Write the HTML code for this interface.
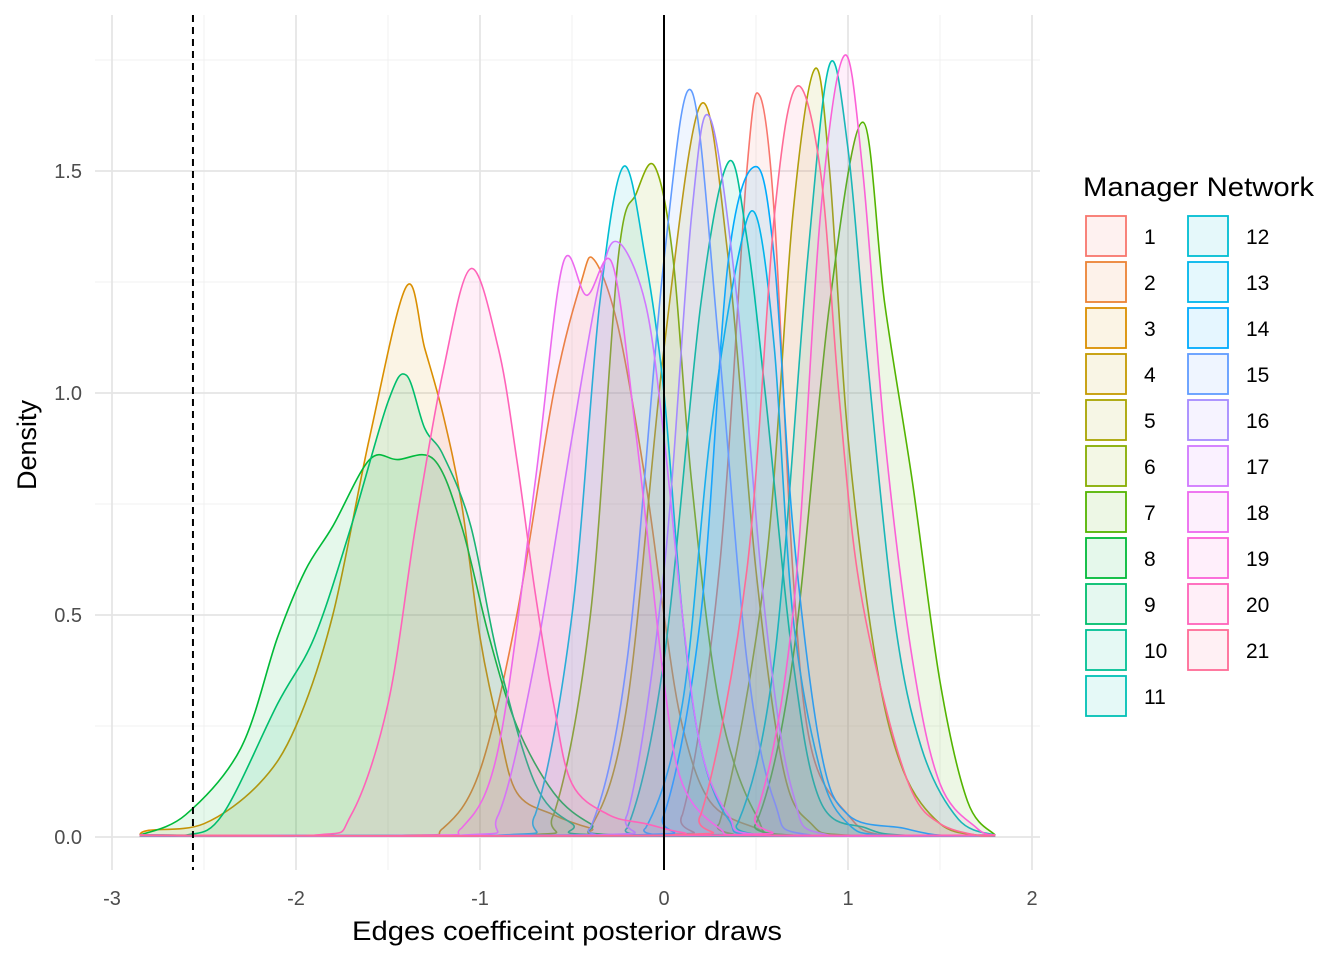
<!DOCTYPE html>
<html><head><meta charset="utf-8"><style>
body{margin:0;background:#fff;}
svg{display:block;font-family:"Liberation Sans",Arial,sans-serif;}
</style></head><body>
<svg id="c" width="1344" height="960"></svg>
<script>
const xTicks=[-3,-2,-1,0,1,2];
const yTicks=[0,0.5,1,1.5];
const yTickLabels=["0.0","0.5","1.0","1.5"];
const seriesNames=["1","2","3","4","5","6","7","8","9","10","11","12","13","14","15","16","17","18","19","20","21"];
const refLines=[-2.56,0];
const s1=[[0.1,0.05],[0.3,0.6],[0.45,1.5],[0.52,1.67],[0.6,1.4],[0.7,0.6],[0.8,0.2],[1.0,0.05]];
const s2=[[-1.2,0.02],[-1.0,0.15],[-0.8,0.5],[-0.6,1.0],[-0.45,1.25],[-0.38,1.3],[-0.25,1.15],[-0.1,0.8],[0,0.5],[0.1,0.25],[0.25,0.08],[0.5,0.02]];
const s3=[[-2.8,0.015],[-2.5,0.03],[-2.2,0.12],[-2.0,0.25],[-1.8,0.5],[-1.6,0.9],[-1.4,1.24],[-1.3,1.1],[-1.2,0.95],[-1.1,0.75],[-1.0,0.45],[-0.9,0.25],[-0.8,0.1],[-0.6,0.05],[-0.4,0.02]];
const s4=[[-0.4,0.02],[-0.2,0.3],[0,1.1],[0.2,1.65],[0.35,1.3],[0.5,0.6],[0.65,0.15],[0.8,0.03]];
const s5=[[0.3,0.03],[0.55,0.6],[0.7,1.4],[0.82,1.73],[0.9,1.5],[1.0,0.9],[1.15,0.4],[1.3,0.15],[1.5,0.03]];
const s6=[[-0.6,0.05],[-0.4,0.5],[-0.25,1.3],[-0.15,1.45],[-0.05,1.51],[0.05,1.3],[0.15,0.8],[0.3,0.3],[0.5,0.05]];
const s7=[[0.5,0.03],[0.7,0.4],[0.9,1.2],[1.08,1.61],[1.2,1.2],[1.35,0.8],[1.5,0.35],[1.65,0.08],[1.8,0.03]];
const s8=[[-2.6,0.05],[-2.3,0.2],[-2.1,0.45],[-1.95,0.6],[-1.8,0.7],[-1.6,0.85],[-1.45,0.85],[-1.25,0.85],[-1.1,0.7],[-0.95,0.45],[-0.8,0.25],[-0.6,0.1],[-0.4,0.03]];
const s9=[[-2.4,0.05],[-2.1,0.3],[-1.9,0.45],[-1.7,0.7],[-1.5,0.98],[-1.4,1.04],[-1.3,0.92],[-1.2,0.86],[-1.05,0.7],[-0.9,0.4],[-0.7,0.12],[-0.5,0.03]];
const s10=[[-0.2,0.02],[0,0.4],[0.2,1.2],[0.35,1.52],[0.45,1.35],[0.55,1.0],[0.7,0.4],[0.85,0.08],[1.1,0.02]];
const s11=[[0.4,0.03],[0.6,0.4],[0.78,1.3],[0.9,1.74],[1.0,1.55],[1.1,1.1],[1.25,0.5],[1.4,0.2],[1.6,0.04]];
const s12=[[-0.7,0.05],[-0.5,0.5],[-0.35,1.2],[-0.22,1.51],[-0.1,1.3],[0,1.0],[0.1,0.5],[0.2,0.2],[0.35,0.04]];
const s13=[[-0.1,0.02],[0.1,0.3],[0.25,0.9],[0.4,1.3],[0.5,1.4],[0.6,1.1],[0.7,0.5],[0.85,0.15],[1.0,0.03]];
const s14=[[0,0.05],[0.2,0.5],[0.35,1.3],[0.5,1.51],[0.6,1.3],[0.7,0.7],[0.85,0.2],[1.0,0.05],[1.3,0.02]];
const s15=[[-0.4,0.02],[-0.2,0.4],[0,1.3],[0.15,1.68],[0.3,1.1],[0.45,0.4],[0.6,0.08]];
const s16=[[-0.2,0.05],[0,0.6],[0.15,1.4],[0.25,1.62],[0.4,1.2],[0.55,0.5],[0.7,0.1]];
const s17=[[-0.9,0.05],[-0.7,0.4],[-0.5,0.9],[-0.35,1.25],[-0.25,1.34],[-0.1,1.2],[0,0.9],[0.1,0.5],[0.2,0.2],[0.35,0.05]];
const s18=[[-1.1,0.02],[-0.9,0.2],[-0.7,0.8],[-0.55,1.29],[-0.42,1.22],[-0.28,1.29],[-0.15,0.9],[0,0.35],[0.1,0.12],[0.3,0.02]];
const s19=[[0.5,0.05],[0.7,0.5],[0.85,1.4],[0.98,1.76],[1.08,1.5],[1.2,0.9],[1.35,0.4],[1.5,0.12],[1.7,0.02]];
const s20=[[-1.7,0.05],[-1.5,0.3],[-1.35,0.7],[-1.2,1.05],[-1.05,1.28],[-0.9,1.1],[-0.8,0.85],[-0.7,0.55],[-0.6,0.3],[-0.5,0.12],[-0.3,0.05],[-0.1,0.03],[0.1,0.01]];
const s21=[[0.2,0.05],[0.45,0.6],[0.6,1.4],[0.72,1.69],[0.85,1.5],[0.95,1.0],[1.05,0.6],[1.2,0.3],[1.35,0.1],[1.5,0.03]];
const seriesData=[s1,s2,s3,s4,s5,s6,s7,s8,s9,s10,s11,s12,s13,s14,s15,s16,s17,s18,s19,s20,s21];
const xMin=-2.85,xMax=1.8;

const svg=document.getElementById('c');
const NS='http://www.w3.org/2000/svg';
const X=v=>664+v*184;
const Y=v=>837-v*444;
function mk(t,a,p){const e=document.createElementNS(NS,t);for(const k in a)e.setAttribute(k,a[k]);(p||svg).appendChild(e);return e;}
function hcl(h){const L=65,C=100,hr=h*Math.PI/180;const u=C*Math.cos(hr),v=C*Math.sin(hr);
const Yv=Math.pow((L+16)/116,3);const un=0.1978,vn=0.4683;const up=u/(13*L)+un,vp=v/(13*L)+vn;
const Xv=Yv*9*up/(4*vp),Zv=Yv*(12-3*up-20*vp)/(4*vp);
let r=3.2406*Xv-1.5372*Yv-0.4986*Zv,g=-0.9689*Xv+1.8758*Yv+0.0415*Zv,b=0.0557*Xv-0.2040*Yv+1.0570*Zv;
const gm=c=>{c=Math.max(0,Math.min(1,c));return Math.round(255*(c<=0.0031308?12.92*c:1.055*Math.pow(c,1/2.4)-0.055));};
return `rgb(${gm(r)},${gm(g)},${gm(b)})`;}
const cols=seriesNames.map((_,i)=>hcl(15+i*360/21));

const grid=mk('g',{});
for(let v=-2.5;v<=1.5;v+=1)mk('line',{x1:X(v),x2:X(v),y1:15,y2:870,stroke:'#f0f0f0','stroke-width':1},grid);
for(const v of [0.25,0.75,1.25,1.75])mk('line',{x1:95,x2:1040,y1:Y(v),y2:Y(v),stroke:'#f0f0f0','stroke-width':1},grid);
xTicks.forEach(v=>mk('line',{x1:X(v),x2:X(v),y1:15,y2:870,stroke:'#e5e5e5','stroke-width':1.8},grid));
yTicks.forEach(v=>mk('line',{x1:95,x2:1040,y1:Y(v),y2:Y(v),stroke:'#e5e5e5','stroke-width':1.8},grid));

function pathFor(pts){
 const f=pts[0],l=pts[pts.length-1];
 let p=[[xMin,0.004]];
 if(f[0]-0.2>xMin+0.05)p.push([f[0]-0.2,0.004]);
 p=p.concat(pts.filter(q=>q[0]>xMin&&q[0]<xMax));
 if(l[0]+0.2<xMax-0.05)p.push([l[0]+0.2,0.004]);
 p.push([xMax,0.004]);
 const P=p.map(q=>[X(q[0]),Y(q[1])]);
 let d=`M${P[0][0]},${P[0][1]}`;
 for(let i=0;i<P.length-1;i++){const p0=P[i-1]||P[i],p1=P[i],p2=P[i+1],p3=P[i+2]||P[i+1];
  let c1y=p1[1]+(p2[1]-p0[1])/6,c2y=p2[1]-(p3[1]-p1[1])/6;c1y=Math.min(c1y,Y(0));c2y=Math.min(c2y,Y(0));
  d+=` C${p1[0]+(p2[0]-p0[0])/6},${c1y} ${p2[0]-(p3[0]-p1[0])/6},${c2y} ${p2[0]},${p2[1]}`;}
 return d;}
const gs=mk('g',{});
seriesData.forEach((pts,i)=>{
 const d=pathFor(pts);
 const f=mk('path',{d:d+` L${X(xMax)},${Y(0)} L${X(xMin)},${Y(0)} Z`,fill:cols[i],'fill-opacity':0.1,stroke:'none'},gs);
 
 
 const l=mk('path',{d:d,fill:'none',stroke:cols[i],'stroke-width':1.6},gs);
 
 
});
const r1=mk('line',{x1:X(refLines[0]),x2:X(refLines[0]),y1:15,y2:870,stroke:'#000','stroke-width':2,'stroke-dasharray':'7,5'});

const r2=mk('line',{x1:X(refLines[1]),x2:X(refLines[1]),y1:15,y2:870,stroke:'#000','stroke-width':2});


xTicks.forEach(v=>{const t=mk('text',{x:X(v),y:905,'text-anchor':'middle','font-size':20,fill:'#4d4d4d'});t.textContent=String(v);
 });
yTicks.forEach((v,i)=>{const t=mk('text',{x:82,y:Y(v)+7,'text-anchor':'end','font-size':20,fill:'#4d4d4d'});t.textContent=yTickLabels[i];
 });
const xt=mk('text',{x:352,y:940,'font-size':27,textLength:430,lengthAdjust:'spacingAndGlyphs'});xt.textContent='Edges coefficeint posterior draws';

const yt=mk('text',{x:36,y:445,'text-anchor':'middle','font-size':27,transform:'rotate(-90 36 445)'});yt.textContent='Density';


const lg=mk('g',{});
const lt=mk('text',{x:1083,y:196,'font-size':27,textLength:231,lengthAdjust:'spacingAndGlyphs'},lg);lt.textContent='Manager Network';

seriesNames.forEach((n,i)=>{const col=i<11?0:1,row=i<11?i:i-11;
 const x=col?1187:1085,y=215+row*46;
 const e=mk('g',{},lg);
 
 
 mk('rect',{x:x+1,y:y+1,width:40,height:40,fill:cols[i],'fill-opacity':0.1,stroke:cols[i],'stroke-width':1.8},e);
 const t=mk('text',{x:col?1246:1144,y:y+29,'font-size':21},e);t.textContent=n;});
</script>
</body></html>
